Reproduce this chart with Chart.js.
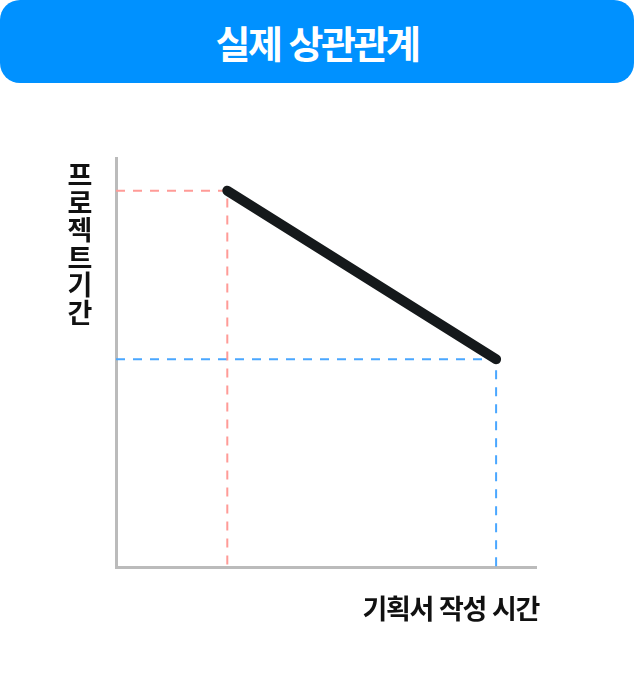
<!DOCTYPE html>
<html lang="ko">

<head>
    <meta charset="UTF-8">
    <title>실제 상관관계</title>
    <style>
        body {
            margin: 0;
            width: 634px;
            height: 691px;
            background: #ffffff;
            font-family: "Noto Sans CJK KR", "Noto Sans", sans-serif;
            position: relative;
            overflow: hidden;
        }

        .header {
            position: absolute;
            left: 0;
            top: 0;
            width: 634px;
            height: 83px;
            background: #0091ff;
            border-radius: 20px;
            color: #fff;
            font-weight: 700;
            font-size: 38px;
            letter-spacing: -2.5px;
            line-height: 83px;
            text-align: center;
        }

        .y-title {
            position: absolute;
            left: 58px;
            top: 160px;
            width: 44px;
            font-weight: 700;
            font-size: 27px;
            line-height: 27.5px;
            color: #111;
            text-align: center;
        }

        .x-title {
            position: absolute;
            right: 95px;
            top: 588px;
            font-weight: 700;
            font-size: 27px;
            letter-spacing: -1.4px;
            color: #111;
        }

        #chart {
            position: absolute;
            left: 0;
            top: 0;
        }
    </style>
</head>

<body>
    <div class="header">실제 상관관계</div>
    <canvas id="chart" width="634" height="691"></canvas>
    <div class="y-title">프<br>로<br>젝<br>트<br>기<br>간</div>
    <div class="x-title">기획서 작성 시간</div>

    <script src="https://cdn.jsdelivr.net/npm/chart.js"></script>
    <script>
        // 기획서 작성 시간 (x) vs 프로젝트 기간 (y), 0-100 scale
        const planX = [26.5, 90.5];
        const projectY = [92, 50.8];

        // guide lines drop from each end of the line to the axes
        const redGuide = [
            { x: 0, y: projectY[0] },
            { x: planX[0], y: projectY[0] },
            { x: planX[0], y: 0 }
        ];
        const blueGuide = [
            { x: 0, y: projectY[1] },
            { x: planX[1], y: projectY[1] },
            { x: planX[1], y: 0 }
        ];

        const mainLine = planX.map((x, i) => ({ x: x, y: projectY[i] }));

        const ctx = document.getElementById('chart');

        new Chart(ctx, {
            type: 'line',
            data: {
                datasets: [{
                    data: mainLine,
                    borderColor: '#15191b',
                    borderWidth: 10,
                    borderCapStyle: 'round',
                    pointRadius: 0
                }, {
                    data: redGuide,
                    borderColor: '#ff9b97',
                    borderWidth: 2,
                    borderDash: [9, 8],
                    pointRadius: 0
                }, {
                    data: blueGuide,
                    borderColor: '#4aa7ff',
                    borderWidth: 2,
                    borderDash: [9, 8],
                    pointRadius: 0
                }]
            },
            options: {
                responsive: false,
                animation: false,
                events: [],
                layout: {
                    padding: { left: 116, top: 158, right: 98, bottom: 124 }
                },
                plugins: {
                    legend: { display: false },
                    tooltip: { enabled: false }
                },
                scales: {
                    x: {
                        type: 'linear',
                        min: 0,
                        max: 100,
                        grid: { display: false, drawTicks: false },
                        ticks: { display: false },
                        border: { display: true, color: '#bbbbbb', width: 3 }
                    },
                    y: {
                        type: 'linear',
                        min: 0,
                        max: 100,
                        grid: { display: false, drawTicks: false },
                        ticks: { display: false },
                        border: { display: true, color: '#bbbbbb', width: 3 }
                    }
                }
            }
        });
    </script>
</body>

</html>
